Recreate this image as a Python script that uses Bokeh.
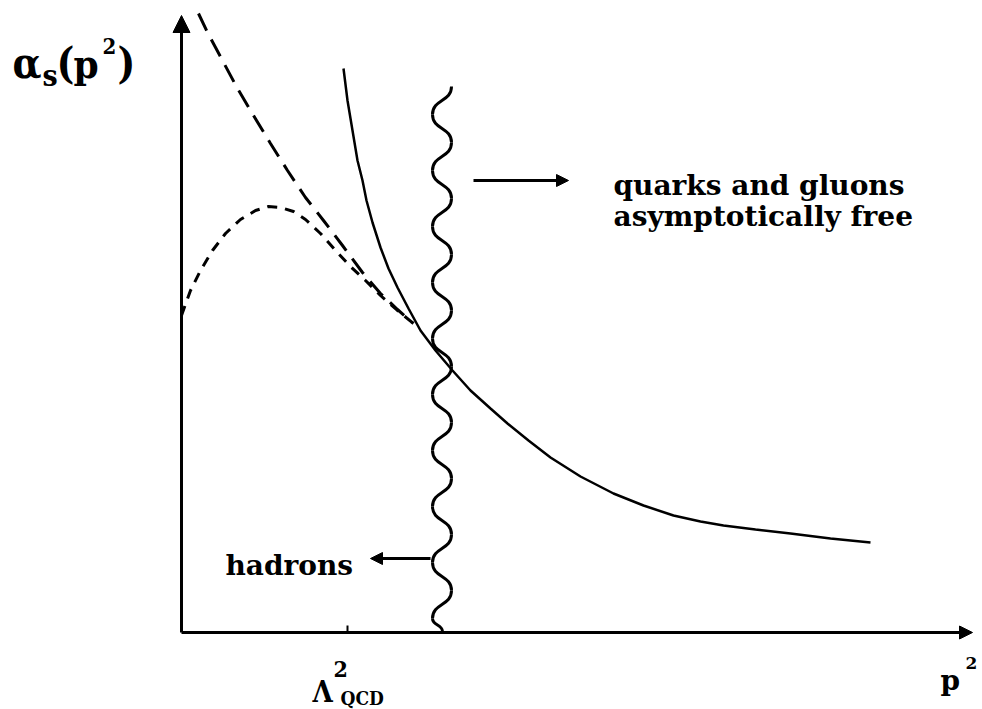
from bokeh.plotting import figure
from bokeh.models import Range1d, Arrow, NormalHead
from bokeh.core.properties import value
from bokeh.embed import file_html
from bokeh.resources import INLINE

# ---- data (p^2 on x, alpha_s on y; arbitrary units, origin at the axes corner) ----
# perturbative running coupling (solid)
pert_p2 = [1.62, 1.66, 1.71, 1.76, 1.81, 1.85, 1.91, 1.99, 2.07, 2.16, 2.27, 2.39,
           2.54, 2.71, 2.89, 3.09, 3.26, 3.47, 3.69, 3.99, 4.32, 4.62, 4.92, 5.19,
           5.42, 5.74, 6.09, 6.49, 6.89]
pert_alpha = [5.64, 5.32, 5.02, 4.72, 4.52, 4.32, 4.10, 3.85, 3.64, 3.45, 3.24, 3.02,
              2.82, 2.62, 2.42, 2.24, 2.09, 1.92, 1.75, 1.56, 1.39, 1.27, 1.17, 1.11,
              1.07, 1.03, 0.99, 0.94, 0.90]

# continuation rising towards p^2 -> 0 (long dashes)
rise_p2 = [0.17, 0.26, 0.41, 0.56, 0.72, 0.89, 1.06, 1.24, 1.42, 1.61, 1.81, 1.99, 2.16, 2.32]
rise_alpha = [6.19, 6.00, 5.72, 5.44, 5.17, 4.89, 4.62, 4.35, 4.12, 3.87, 3.60, 3.39, 3.23, 3.09]

# continuation that turns over at low p^2 (short dashes)
turn_p2 = [0.00, 0.09, 0.19, 0.31, 0.44, 0.59, 0.74, 0.87, 0.99, 1.12, 1.24, 1.39,
           1.54, 1.69, 1.84, 1.99, 2.16, 2.32]
turn_alpha = [3.17, 3.42, 3.62, 3.82, 3.99, 4.13, 4.22, 4.26, 4.25, 4.21, 4.13, 3.99,
              3.82, 3.66, 3.52, 3.37, 3.22, 3.09]

# position of Lambda_QCD^2 on the p^2 axis
lambda_qcd2 = 1.66

# wavy separator between the hadron and the quark-gluon regime
wave_p2_right = 2.70
wave_p2_left = 2.51
wave_p2_end = 2.61
wave_turn_alpha = [5.46, 5.18, 4.90, 4.62, 4.34, 4.06, 3.78, 3.50, 3.22, 2.94,
                   2.66, 2.38, 2.10, 1.82, 1.54, 1.26, 0.98, 0.70, 0.42, 0.14, 0.01]

# axis extents
p2_axis_end = 7.91
alpha_axis_end = 6.17

p = figure(width=982, height=709,
           x_range=Range1d(-1.81, 8.01), y_range=Range1d(-0.77, 6.32),
           x_axis_type=None, y_axis_type=None,
           toolbar_location=None, output_backend="svg",
           min_border=0, outline_line_color=None,
           background_fill_color="white", border_fill_color="white")

# axes drawn as arrows
p.add_layout(Arrow(end=NormalHead(size=17, fill_color="black", line_color="black"),
                   x_start=0, y_start=0, x_end=0, y_end=alpha_axis_end,
                   line_width=3, line_color="black"))
p.add_layout(Arrow(end=NormalHead(size=13, fill_color="black", line_color="black"),
                   x_start=0, y_start=0, x_end=p2_axis_end, y_end=0,
                   line_width=3, line_color="black"))
p.segment(x0=[lambda_qcd2], y0=[0], x1=[lambda_qcd2], y1=[0.07],
          line_width=2, line_color="black")

# curves
p.line(pert_p2, pert_alpha, line_width=2.5, line_color="black")
p.line(rise_p2, rise_alpha, line_width=3, line_color="black", line_dash="19 10")
p.line(turn_p2, turn_alpha, line_width=3, line_color="black", line_dash="10 8")

# wavy line: cubic segments between turning points with vertical tangents
xs = []
for i in range(len(wave_turn_alpha)):
    if i == len(wave_turn_alpha) - 1:
        xs.append(wave_p2_end)
    else:
        xs.append(wave_p2_right if i % 2 == 0 else wave_p2_left)
x0, y0, x1, y1, cx0, cy0, cx1, cy1 = [], [], [], [], [], [], [], []
for i in range(len(wave_turn_alpha) - 1):
    ya, yb = wave_turn_alpha[i], wave_turn_alpha[i + 1]
    d = (ya - yb) * 0.55
    x0.append(xs[i]); y0.append(ya)
    x1.append(xs[i + 1]); y1.append(yb)
    cx0.append(xs[i]); cy0.append(ya - d)
    cx1.append(xs[i + 1]); cy1.append(yb + d)
p.bezier(x0=x0, y0=y0, x1=x1, y1=y1, cx0=cx0, cy0=cy0, cx1=cx1, cy1=cy1,
         line_width=3, line_color="black")

# region arrows
p.add_layout(Arrow(end=NormalHead(size=12, fill_color="black", line_color="black"),
                   x_start=2.92, y_start=4.52, x_end=3.87, y_end=4.52,
                   line_width=3, line_color="black"))
p.add_layout(Arrow(end=NormalHead(size=12, fill_color="black", line_color="black"),
                   x_start=2.49, y_start=0.74, x_end=1.89, y_end=0.74,
                   line_width=3, line_color="black"))


def label(x, y, txt, size, font="DejaVu Serif", style="bold"):
    p.text(x=[x], y=[y], text=[txt], text_font=value(font), text_font_style=style,
           text_font_size=f"{size}px", text_color="black",
           text_align="left", text_baseline="alphabetic")


# region labels
label(4.32, 4.47, "quarks and gluons", 28)
label(4.32, 4.16, "asymptotically free", 28)
label(0.44, 0.67, "hadrons", 28)

# y-axis title alpha_s(p^2)
CF = "DejaVu Serif Condensed"
label(-1.69, 5.69, "\u03b1", 42, CF)
label(-1.39, 5.57, "s", 30, CF)
label(-1.25, 5.69, "(", 42, CF)
label(-1.08, 5.69, "p", 40, CF)
label(-0.79, 5.87, "2", 22, CF)
label(-0.64, 5.69, ")", 42, CF)

# Lambda_QCD^2 tick label
label(1.31, -0.59, "\u039b", 29, CF)
label(1.52, -0.36, "2", 23, CF)
label(1.59, -0.65, "QCD", 19, CF)

# x-axis title p^2
label(7.59, -0.48, "p", 28)
label(7.84, -0.30, "2", 17)

open("out.html", "w").write(file_html(p, INLINE))
